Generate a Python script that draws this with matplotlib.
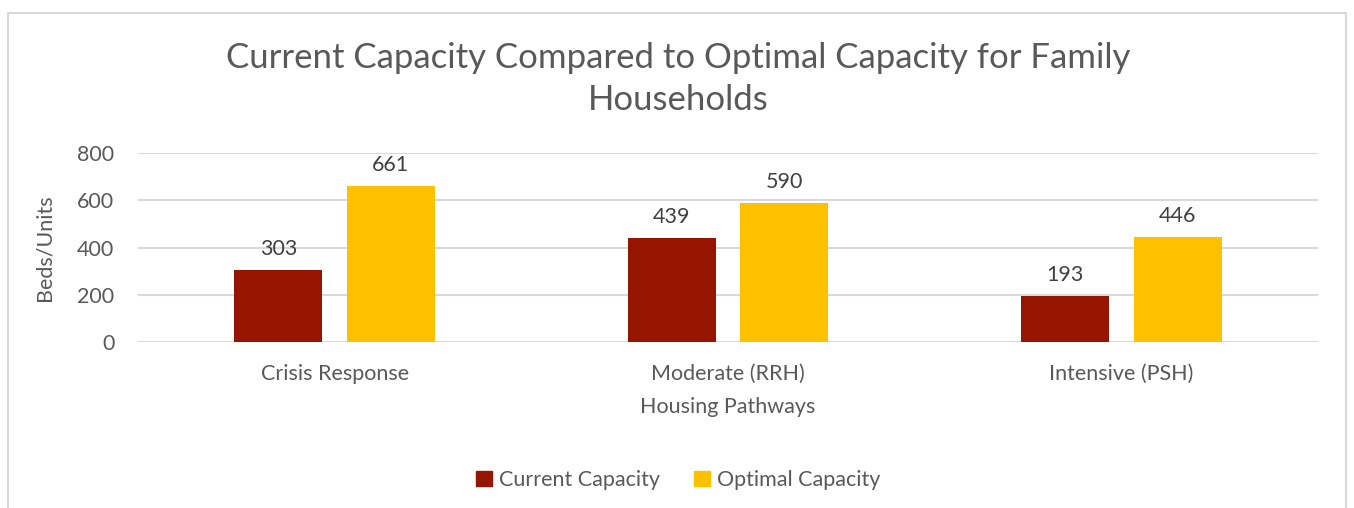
import matplotlib.pyplot as plt
import matplotlib.patches as mpatches
import numpy as np

plt.rcParams['font.family'] = ['Lato', 'DejaVu Sans']

categories = ['Crisis Response', 'Moderate (RRH)', 'Intensive (PSH)']
current = [303, 439, 193]
optimal = [661, 590, 446]
series_names = ['Current Capacity', 'Optimal Capacity']
yticks = [0, 200, 400, 600, 800]

text_color = '#595959'
grid_color = '#d9d9d9'
red = '#951500'
gold = '#ffc000'

W, H = 1354, 508
fig = plt.figure(figsize=(W / 100, H / 100), dpi=100)
ax = fig.add_axes([138 / W, 1 - 342 / H, 1180 / W, 189 / H])

x = np.arange(len(categories))
bw = 0.224
off = 0.143
b1 = ax.bar(x - off, current, bw, color=red, label=series_names[0], zorder=3)
b2 = ax.bar(x + off, optimal, bw, color=gold, label=series_names[1], zorder=3)

for bars, vals in ((b1, current), (b2, optimal)):
    for rect, v in zip(bars, vals):
        ax.annotate(str(v), (rect.get_x() + rect.get_width() / 2, v),
                    xytext=(0, 8), textcoords='offset points',
                    ha='center', va='bottom', fontsize=15.5, color='#404040')

ax.set_xlim(-0.5, 2.5)
ax.set_ylim(0, 800)
ax.set_yticks(yticks)
ax.set_xticks(x)
ax.set_xticklabels(categories)
ax.tick_params(length=0, labelsize=15.5, colors=text_color)
ax.tick_params(axis='x', pad=16)
ax.tick_params(axis='y', pad=17)
ax.grid(axis='y', color=grid_color, linewidth=1.5, zorder=0)
for s in ax.spines.values():
    s.set_visible(False)

ax.set_ylabel('Beds/Units', fontsize=15.5, color=text_color, labelpad=16)
ax.set_xlabel('Housing Pathways', fontsize=15.5, color=text_color, labelpad=9)

fig.text(678 / W, 1 - 79 / H,
         'Current Capacity Compared to Optimal Capacity for Family\nHouseholds',
         ha='center', va='center', fontsize=25, color=text_color, linespacing=1.35)

handles = [mpatches.Patch(color=red), mpatches.Patch(color=gold)]
fig.legend(handles, series_names, loc='center', bbox_to_anchor=(678 / W, 1 - 480 / H),
           ncol=2, frameon=False, fontsize=15.5, handlelength=0.75, handleheight=0.75,
           handletextpad=0.3, columnspacing=1.6, labelcolor=text_color)

border = mpatches.Rectangle((8 / W, -0.05), 1338 / W, 1.05 - 13 / H,
                            transform=fig.transFigure, fill=False,
                            edgecolor=grid_color, linewidth=1.5, clip_on=False)
fig.patches.append(border)

fig.savefig('out.png', dpi=100)
